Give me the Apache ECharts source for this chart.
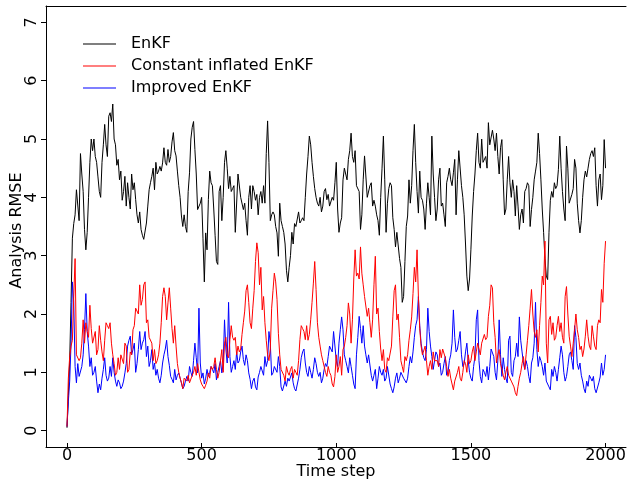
<!DOCTYPE html>
<html>
<head>
<meta charset="utf-8">
<script src="https://cdn.jsdelivr.net/npm/echarts@6/dist/echarts.min.js"></script>
<style>html,body{margin:0;padding:0;background:#fff}#c{width:627px;height:483px}</style>
</head>
<body>
<div id="c"></div>
<script>
// Analysis RMSE, one value every 5 time steps (0..2000)
const sampleEvery = 5;
const enkf = [
0.05,0.6,1.2,2.2,3.3,3.55,3.7,4.13,4.1,3.6,
4.75,4.4,4.1,3.45,3.1,3.4,4.0,4.6,5.0,4.8,
5.0,4.7,4.6,4.35,4.1,4.0,4.6,4.9,5.25,4.9,
4.7,5.39,5.45,5.3,5.6,5.0,4.9,4.55,4.65,4.3,
4.45,3.95,4.1,4.36,3.85,4.25,4.0,3.8,4.4,4.13,
4.25,3.96,3.7,3.56,3.75,3.45,3.35,3.28,3.25,3.56,
3.85,4.13,4.25,4.36,4.5,4.13,4.6,4.4,4.45,4.53,
4.45,4.59,4.85,4.6,4.55,4.82,4.6,4.7,4.95,5.11,
4.8,4.71,4.45,4.2,4.0,3.68,3.5,3.7,3.5,3.4,
4.1,4.42,5.0,5.2,5.3,4.82,4.4,3.79,3.8,3.9,
4.0,3.3,2.55,3.39,3.1,3.96,4.45,4.25,4.2,3.8,
3.35,2.9,2.85,4.1,4.2,3.6,4.0,4.6,4.8,4.5,
4.15,4.36,4.1,4.15,4.2,3.4,3.4,4.4,4.4,4.0,
4.0,3.79,3.9,3.6,3.35,4.0,4.2,3.8,4.2,4.1,
3.95,4.05,3.7,4.0,4.1,3.9,4.2,3.9,4.75,5.31,
4.6,3.6,3.7,3.75,3.7,3.5,3.39,2.99,3.9,3.6,
3.5,3.4,3.2,2.75,2.55,2.8,3.0,3.4,3.2,3.55,
3.5,3.5,3.75,3.56,3.6,3.65,3.6,4.0,4.4,4.7,
5.05,4.9,4.6,4.36,4.15,4.0,3.9,3.85,4.0,3.75,
3.85,4.1,4.15,3.96,4.05,3.85,3.85,4.0,3.95,4.25,
4.6,3.8,3.4,3.56,3.65,4.3,4.5,4.4,4.3,4.65,
4.8,5.1,4.7,4.6,4.8,4.2,4.2,4.1,3.45,3.7,
4.3,4.71,4.7,4.0,4.0,4.2,4.25,3.85,3.95,3.85,
3.7,3.6,3.35,4.0,4.5,5.05,4.3,3.4,3.9,4.15,
4.25,4.2,3.65,3.45,3.15,3.4,3.4,2.95,2.8,2.2,
2.3,2.9,3.5,3.68,4.3,3.9,4.2,4.8,5.25,4.6,
4.1,3.73,4.45,4.0,3.95,3.8,3.45,3.9,4.25,4.0,
3.7,5.05,4.4,4.0,3.6,3.8,4.3,4.5,3.85,3.9,
3.7,3.5,4.25,4.36,4.5,4.3,4.2,4.42,4.65,3.7,
4.3,4.8,4.8,4.2,4.0,3.7,3.2,2.65,2.4,2.6,
3.1,3.68,4.1,4.4,4.8,5.1,4.6,4.5,5.0,4.6,
4.6,4.7,4.5,5.28,4.9,4.9,5.15,5.0,4.8,5.1,
4.7,4.4,4.85,4.99,4.3,3.7,3.8,4.3,4.7,4.25,
4.0,4.3,4.1,3.68,4.2,3.85,3.45,3.7,3.8,3.56,
4.1,4.15,4.25,4.2,3.5,3.79,4.0,4.3,4.45,4.6,
5.1,4.75,4.3,3.8,3.4,2.95,2.65,2.59,3.4,3.95,
4.1,4.0,4.25,4.15,4.2,4.48,5.05,4.5,4.1,3.8,
3.6,4.88,4.5,3.9,3.9,4.05,4.15,4.65,4.5,3.9,
3.6,3.39,3.6,4.0,4.3,4.45,4.35,4.5,4.65,4.75,
4.8,4.7,4.85,4.2,3.85,4.3,4.4,3.96,4.2,4.99,
4.5];
const constantInflated = [
0.07,0.9,1.27,1.45,1.55,2.3,2.95,1.3,1.3,1.2,
1.25,1.5,1.9,1.5,1.85,1.7,1.6,2.15,1.75,1.5,
1.5,1.7,1.3,1.39,1.8,1.55,1.35,1.2,1.55,1.85,
1.8,1.75,1.85,1.5,1.3,1.15,0.95,1.0,1.25,1.05,
1.3,1.3,1.15,1.5,1.45,1.0,1.05,1.35,1.3,1.73,
1.8,2.1,2.1,2.0,2.5,2.15,2.25,2.5,2.55,1.85,
1.9,1.6,1.6,1.5,1.2,1.39,1.15,1.2,1.3,1.5,
1.85,2.3,2.45,2.3,1.9,2.19,2.45,2.1,1.75,1.5,
1.8,1.45,1.15,1.0,0.9,0.82,0.72,0.9,0.9,0.85,
0.95,0.82,0.85,0.95,1.0,1.1,0.95,1.15,1.0,0.87,
0.8,0.76,0.72,0.78,0.85,0.99,0.9,1.1,1.05,1.1,
1.25,1.05,0.9,1.0,1.2,1.39,1.0,1.5,1.6,1.3,
1.25,1.56,1.8,1.6,1.55,1.6,1.3,1.45,1.35,1.4,
1.65,1.85,2.05,2.4,2.5,2.2,1.85,1.75,2.1,2.4,
2.9,3.22,3.05,2.5,2.8,2.07,2.3,1.85,1.55,1.3,
1.2,1.4,2.1,2.4,2.7,2.55,2.25,1.67,1.3,1.05,
1.05,0.95,0.85,1.1,1.0,0.95,1.05,1.1,0.9,1.05,
1.0,0.95,1.2,1.56,1.8,1.75,1.7,1.56,1.8,1.55,
1.65,1.9,2.2,2.53,2.9,2.42,1.85,1.6,1.45,1.3,
1.2,1.1,1.0,0.93,1.1,1.0,0.95,0.8,0.75,0.93,
1.3,1.0,1.1,1.27,0.95,1.39,1.45,1.6,1.8,2.19,
2.0,1.5,1.9,2.6,3.1,2.65,2.7,2.6,3.15,2.7,
2.5,2.3,2.3,1.96,2.1,1.85,1.6,1.9,2.5,2.99,
2.0,2.1,1.7,1.4,1.2,1.39,1.05,1.0,1.25,1.2,
1.2,1.45,1.95,2.4,2.5,1.9,2.0,1.6,1.2,1.1,
1.0,1.27,1.2,1.3,1.55,1.73,1.95,2.35,2.8,2.55,
3.1,2.3,1.75,1.45,1.3,1.3,1.45,1.2,0.95,1.1,
1.2,1.05,1.35,1.2,1.2,1.2,1.1,1.39,1.25,1.4,
1.4,1.25,1.1,0.93,1.05,0.9,0.8,0.7,0.85,0.85,
1.0,1.1,0.9,0.85,1.0,1.2,1.15,1.0,1.3,1.15,
1.2,1.35,1.45,1.2,1.35,1.5,1.4,1.3,1.5,1.5,
1.65,1.56,1.6,1.96,2.15,2.5,2.45,1.85,1.6,1.16,
1.3,1.39,1.15,1.05,0.95,0.87,1.0,1.1,0.95,0.93,
0.85,0.87,0.75,0.65,0.6,0.76,0.9,1.0,1.15,1.27,
1.05,1.3,1.55,1.8,2.1,2.42,2.0,1.7,1.6,1.73,
1.35,1.8,2.2,2.65,2.5,3.25,1.5,1.16,1.9,1.96,
1.65,1.85,1.55,1.6,1.8,1.96,1.7,1.85,1.6,1.5,
2.3,2.47,2.0,1.62,1.45,1.27,1.5,1.73,2.0,1.73,
1.6,1.39,1.45,1.27,1.4,1.62,1.9,1.62,1.45,1.39,
1.8,1.62,1.45,1.39,1.8,1.9,1.85,2.42,2.2,2.87,
3.25];
const improved = [
0.07,0.5,0.85,1.5,2.55,2.2,1.1,0.82,1.15,0.93,
0.95,1.1,1.3,1.73,2.35,1.7,1.45,1.1,1.25,0.95,
1.0,1.1,0.85,0.65,0.8,0.7,0.9,1.05,1.25,0.95,
0.85,0.9,1.1,0.93,1.25,1.0,0.85,0.76,0.87,0.82,
0.72,0.76,0.85,0.99,1.15,1.45,1.55,1.62,1.3,1.39,
1.5,1.0,1.15,1.39,1.7,1.39,1.5,1.56,1.7,1.27,
1.45,1.1,1.2,1.39,1.05,1.16,0.95,1.05,0.9,0.82,
0.95,1.16,1.3,1.4,1.55,1.27,1.12,0.93,0.88,0.82,
1.05,0.87,0.95,0.99,0.9,0.82,0.72,0.76,0.85,0.93,
0.85,1.1,1.0,0.93,1.2,1.5,1.25,0.99,2.1,1.16,
0.9,0.99,0.8,0.9,1.05,0.93,1.0,1.1,1.05,0.99,
1.15,0.87,1.0,1.1,1.2,0.99,1.15,1.9,1.4,1.16,
2.2,1.27,1.0,1.1,1.2,1.05,1.35,1.16,1.2,1.35,
1.45,1.22,1.12,1.3,1.2,0.99,0.88,0.72,0.85,0.9,
0.75,0.7,0.92,1.0,1.1,1.1,0.95,1.27,1.1,1.2,
1.7,1.5,0.95,0.99,1.1,1.1,1.0,1.27,1.1,0.75,
0.68,0.7,0.85,0.76,0.9,0.85,0.85,0.99,0.82,0.72,
0.68,0.7,0.9,1.05,1.25,1.35,1.4,1.16,1.0,0.93,
1.1,1.0,0.9,1.05,1.25,1.15,1.0,0.93,1.0,0.82,
0.9,1.05,1.15,1.1,1.27,1.45,1.4,1.35,1.7,1.73,
1.2,1.1,1.5,1.73,1.95,1.73,1.3,1.2,1.1,0.99,
1.25,1.1,0.95,0.8,0.72,1.3,1.6,1.96,1.75,1.5,
1.8,1.45,1.3,1.16,1.3,1.27,0.95,0.85,0.95,1.05,
0.72,0.9,1.1,1.0,0.95,1.05,0.85,0.9,1.1,1.1,
0.8,0.72,0.65,0.75,0.9,0.99,0.82,0.9,1.0,1.0,
0.9,0.93,0.82,0.9,1.1,1.27,1.16,1.35,1.6,1.8,
1.9,2.3,1.8,1.5,1.35,1.25,1.2,1.39,2.1,1.7,
1.45,1.27,1.05,1.2,1.35,1.3,1.1,1.16,0.95,1.0,
1.15,1.27,0.95,1.0,1.2,1.3,1.5,2.07,1.6,1.35,
1.4,1.55,1.7,1.3,1.1,1.15,1.35,1.5,1.2,1.0,
0.9,0.85,1.1,1.27,1.9,2.07,1.2,0.93,0.82,1.05,
1.0,0.93,1.1,0.87,1.1,1.4,1.4,1.27,1.0,0.87,
1.2,1.9,1.3,0.93,1.25,1.05,0.9,0.82,1.55,1.62,
1.0,0.93,1.2,1.27,1.5,1.27,1.95,1.55,1.35,1.16,
1.05,1.2,1.1,0.93,0.82,1.16,1.25,1.5,2.2,1.39,
1.1,1.27,1.2,1.1,0.95,1.16,0.85,0.82,0.75,0.7,
1.05,0.93,1.1,1.0,0.85,1.05,1.25,1.45,1.3,1.0,
0.85,0.93,1.1,1.3,1.35,1.2,1.05,1.8,1.6,1.15,
1.05,1.16,0.95,0.85,0.72,0.65,0.85,0.76,0.95,0.9,
0.85,0.93,0.72,0.65,0.68,0.82,0.92,1.16,0.95,1.05,
1.3];
const seriesNames = ['EnKF', 'Constant inflated EnKF', 'Improved EnKF'];
const xTicks = [0, 500, 1000, 1500, 2000];
const yTicks = [0, 1, 2, 3, 4, 5, 6, 7];

const FONT = 'DejaVu Sans';
const toPairs = vals => vals.map((v, i) => [i * sampleEvery, v]);

const chart = echarts.init(document.getElementById('c'), null, {renderer: 'canvas'});
const axisLineStyle = {color: '#000', width: 1};
chart.setOption({
  animation: false,
  backgroundColor: '#fff',
  grid: {left: 46, right: 1, top: 6, bottom: 36, containLabel: false, outerBoundsMode: 'none'},
  legend: {
    orient: 'vertical', left: 83, top: 36, padding: 0,
    icon: 'rect', itemWidth: 33, itemHeight: 1, itemGap: 6,
    data: seriesNames,
    textStyle: {fontFamily: FONT, fontSize: 16, color: '#000', padding: [0, 0, 0, 10]}
  },
  xAxis: [{
    type: 'value', min: -78, max: 2076, position: 'bottom',
    axisLine: {show: true, onZero: false, lineStyle: axisLineStyle},
    axisTick: {show: true, inside: true, length: 4, customValues: xTicks, lineStyle: axisLineStyle},
    axisLabel: {customValues: xTicks, margin: 1, fontFamily: FONT, fontSize: 16, color: '#000',
                formatter: v => String(v)},
    splitLine: {show: false},
    name: 'Time step', nameLocation: 'middle', nameGap: 17, nameMoveOverlap: false,
    nameTextStyle: {fontFamily: FONT, fontSize: 16, color: '#000'}
  }, {
    type: 'value', min: -78, max: 2076, position: 'top',
    axisLine: {show: true, onZero: false, lineStyle: axisLineStyle},
    axisTick: {show: false}, axisLabel: {show: false}, splitLine: {show: false}
  }],
  yAxis: {
    type: 'value', min: -0.28, max: 7.28,
    axisLine: {show: true, onZero: false, lineStyle: axisLineStyle},
    axisTick: {show: true, inside: false, length: 5, customValues: yTicks, lineStyle: axisLineStyle},
    axisLabel: {customValues: yTicks, rotate: 90, margin: 6, fontFamily: FONT, fontSize: 16, color: '#000',
                formatter: v => String(v)},
    splitLine: {show: false},
    name: 'Analysis RMSE', nameLocation: 'middle', nameGap: 21, nameMoveOverlap: false,
    nameTextStyle: {fontFamily: FONT, fontSize: 16, color: '#000', padding: [0, 8, 0, 0]}
  },
  series: [
    {name: seriesNames[0], type: 'line', data: toPairs(enkf), symbol: 'none',
     lineStyle: {color: '#000', width: 1}, itemStyle: {color: '#000'}, z: 2},
    {name: seriesNames[2], type: 'line', data: toPairs(improved), symbol: 'none',
     lineStyle: {color: '#0000ff', width: 1}, itemStyle: {color: '#0000ff'}, z: 3},
    {name: seriesNames[1], type: 'line', data: toPairs(constantInflated), symbol: 'none',
     lineStyle: {color: '#ff0000', width: 1}, itemStyle: {color: '#ff0000'}, z: 4}
  ]
});
</script>
</body>
</html>
